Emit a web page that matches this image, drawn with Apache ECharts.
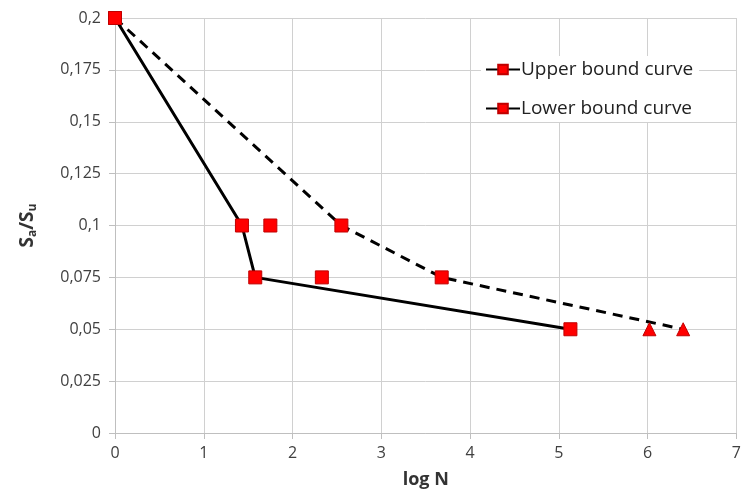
<!DOCTYPE html>
<html><head><meta charset="utf-8">
<script src="https://cdn.jsdelivr.net/npm/echarts@6/dist/echarts.min.js"></script>
<style>html,body{margin:0;padding:0;background:#fff}#c{width:744px;height:504px}</style>
</head><body><div id="c"></div>
<script>
const upperX = [0, 2.55, 3.68, 6.4];
const upperY = [0.2, 0.1, 0.075, 0.05];
const upperSym = ['rect', 'rect', 'rect', 'triangle'];
const lowerX = [0, 1.43, 1.58, 5.13];
const lowerY = [0.2, 0.1, 0.075, 0.05];
const lowerSym = ['rect', 'rect', 'rect', 'rect'];
const extraX = [1.75, 2.33, 6.02];
const extraY = [0.1, 0.075, 0.05];
const extraSym = ['rect', 'rect', 'triangle'];

function pts(xs, ys, syms) {
  return xs.map((x, i) => ({ value: [x, ys[i]], symbol: syms[i] }));
}
const FONT = '"Open Sans", Lato, sans-serif';
const markerStyle = { color: '#ff0000', borderColor: '#c00000', borderWidth: 1, opacity: 1 };

const chart = echarts.init(document.getElementById('c'));
chart.setOption({
  animation: false,
  grid: { left: 115, top: 18, right: 3, bottom: 71 },
  legend: {
    left: 481, top: 56, orient: 'vertical', itemGap: 20,
    itemWidth: 34, itemHeight: 12,
    backgroundColor: '#fff', padding: [4, 6, 4, 4],
    lineStyle: { type: 'solid' },
    textStyle: { fontFamily: FONT, fontSize: 19, color: '#222', padding: [0, 0, 0, -4] },
    data: ['Upper bound curve', 'Lower bound curve']
  },
  xAxis: {
    type: 'value', min: 0, max: 7, interval: 1,
    name: 'log N', nameLocation: 'middle', nameGap: 38,
    nameTextStyle: { fontFamily: FONT, fontSize: 18, fontWeight: 'bold', color: '#333' },
    axisLine: { show: true, lineStyle: { color: '#bfbfbf' } },
    axisTick: { show: true, length: 6, lineStyle: { color: '#bfbfbf' } },
    axisLabel: { fontFamily: FONT, fontSize: 16, color: '#404040', margin: 12 },
    splitLine: { show: true, lineStyle: { color: '#d0d0d0' } }
  },
  yAxis: {
    type: 'value', min: 0, max: 0.2, interval: 0.025,
    name: '{b|S}{s|a}{b|/S}{s|u}', nameLocation: 'middle', nameGap: 76,
    nameTextStyle: {
      rich: {
        b: { fontFamily: FONT, fontSize: 19, fontWeight: 'bold', color: '#333' },
        s: { fontFamily: FONT, fontSize: 12, fontWeight: 'bold', color: '#333', verticalAlign: 'bottom', padding: [10, 0, 0, 0] }
      }
    },
    axisLine: { show: true, lineStyle: { color: '#bfbfbf' } },
    axisTick: { show: true, length: 6, lineStyle: { color: '#bfbfbf' } },
    axisLabel: {
      fontFamily: FONT, fontSize: 16, color: '#404040', margin: 14,
      formatter: v => String(+v.toFixed(3)).replace('.', ',')
    },
    splitLine: { show: true, lineStyle: { color: '#d0d0d0' } }
  },
  series: [
    {
      name: 'Upper bound curve', type: 'line', z: 3,
      symbol: 'rect',
      data: pts(upperX, upperY, upperSym),
      symbolSize: 13,
      lineStyle: { color: '#000', width: 3, type: [10, 7] },
      itemStyle: markerStyle
    },
    {
      name: 'Lower bound curve', type: 'line', z: 3,
      symbol: 'rect',
      data: pts(lowerX, lowerY, lowerSym),
      symbolSize: 13,
      lineStyle: { color: '#000', width: 3 },
      itemStyle: markerStyle
    },
    {
      name: 'extra', type: 'scatter', z: 4,
      data: pts(extraX, extraY, extraSym),
      symbolSize: 13,
      itemStyle: markerStyle
    }
  ]
});
</script></body></html>
